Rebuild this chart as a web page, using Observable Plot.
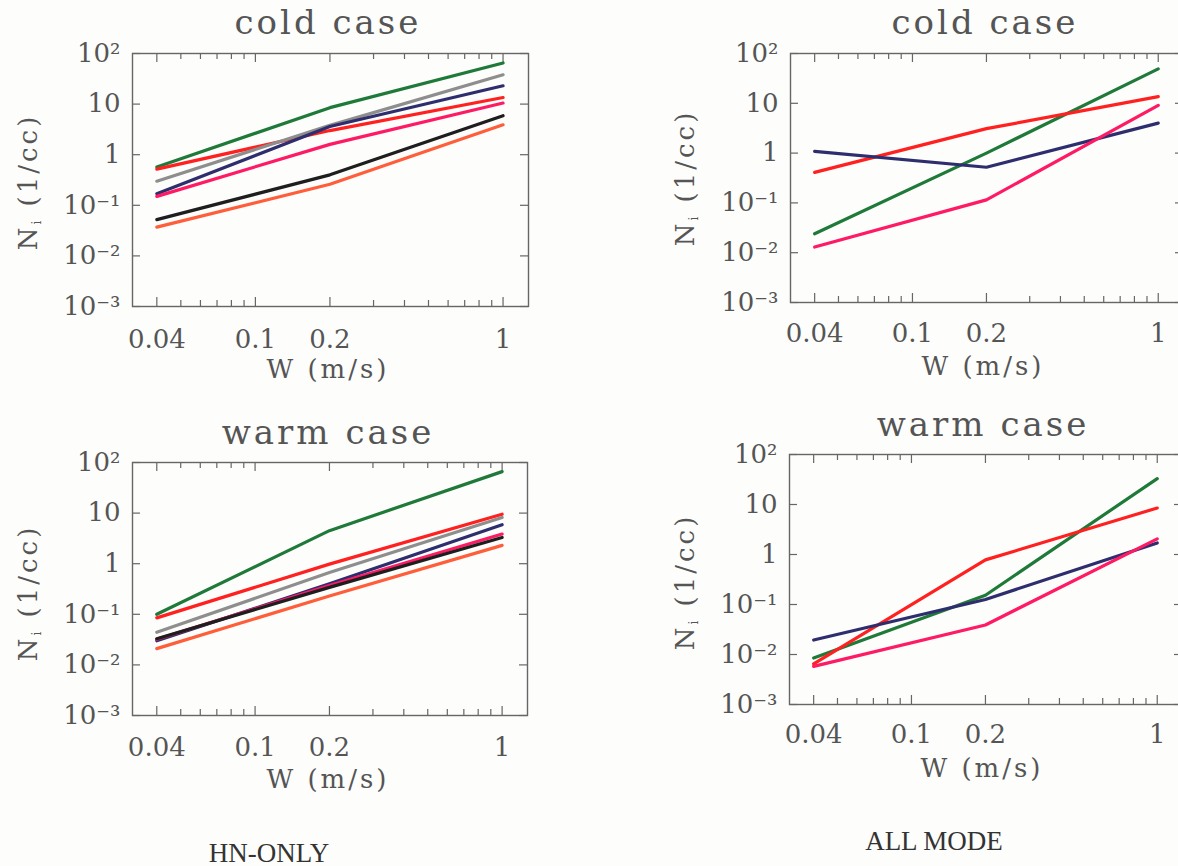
<!DOCTYPE html>
<html><head><meta charset="utf-8">
<script src="https://cdn.jsdelivr.net/npm/d3@7"></script>
<script src="https://cdn.jsdelivr.net/npm/@observablehq/plot@0.6"></script>
<style>
html,body{margin:0;padding:0;background:#fdfdfc;}
#page{position:relative;width:1178px;height:866px;overflow:hidden;font-family:"DejaVu Serif",serif;color:#555;}
.abs{position:absolute;white-space:nowrap;line-height:1;}
.title{font-size:34px;letter-spacing:3px;transform:translate(-50%,-100%);}
.xlab{font-size:26px;letter-spacing:3px;transform:translate(-50%,-50%);}
.ylab{font-size:26px;letter-spacing:3px;transform:translate(-50%,-50%) rotate(-90deg);}
.ylab sub{font-size:12px;vertical-align:-4px;}
.cap{font-family:"Liberation Serif",serif;font-size:27px;color:#333;transform:translate(-50%,-50%);}
svg{position:absolute;overflow:visible;}
</style></head><body><div id="page"></div>
<script>
// x positions of the points (vertical velocity W, m/s)
const W = [0.04, 0.2, 1];
// axis ticks
const xMinorTicks = [0.05,0.06,0.07,0.08,0.09,0.3,0.4,0.5,0.6,0.7,0.8,0.9];
const xLabelTicks = [0.04, 0.1, 0.2, 1];
const xTickLabels = ["0.04", "0.1", "0.2", "1"];
const yDecades = [1e-3, 1e-2, 1e-1, 1, 10, 100];
const yTickLabels = ["10\u207B\u00B3","10\u207B\u00B2","10\u207B\u00B9","1","10","10\u00B2"];

// series colours
const hnColors = ["#1f7a3a","#ff2020","#8e8e8e","#2e2e6e","#ff1a64","#1e1e1e","#ff5e3a"];
const allColors = ["#1f7a3a","#ff2020","#2e2e6e","#ff1a64"];

// HN-ONLY, cold case: green, red, gray, navy, pink, black, orange
const coldHN = [
  [0.57, 8.5, 65],
  [0.52, 3.0, 13.5],
  [0.30, 3.8, 38],
  [0.17, 3.6, 23],
  [0.15, 1.6, 10.5],
  [0.052, 0.40, 5.9],
  [0.037, 0.26, 3.9]
];
// HN-ONLY, warm case
const warmHN = [
  [0.10, 4.5, 66],
  [0.085, 0.98, 9.5],
  [0.044, 0.67, 8.2],
  [0.030, 0.40, 5.9],
  [0.032, 0.37, 3.85],
  [0.033, 0.34, 3.3],
  [0.021, 0.23, 2.3]
];
// ALL MODE, cold case: green, red, navy, pink
const coldAll = [
  [0.024, 1.0, 49],
  [0.41, 3.1, 13.6],
  [1.08, 0.52, 4.0],
  [0.013, 0.115, 9.1]
];
// ALL MODE, warm case
const warmAll = [
  [0.0085, 0.153, 33],
  [0.0065, 0.78, 8.5],
  [0.0195, 0.126, 1.7],
  [0.0058, 0.039, 2.05]
];

const page = document.getElementById("page");
function addDiv(cls, html, x, y) {
  const d = document.createElement("div");
  d.className = "abs " + cls;
  d.innerHTML = html;
  d.style.left = x + "px";
  d.style.top = y + "px";
  page.appendChild(d);
}

function panel(series, colors, frame, title, titleXY, xlabXY, ylabXY) {
  const mL = 80, mT = 12, mR = 12, mB = 60;
  const fw = frame.right - frame.left, fh = frame.bottom - frame.top;
  const rows = [];
  series.forEach((vals, s) => vals.forEach((v, i) => rows.push({w: W[i], n: v, s})));
  const tl = 6, tlMajor = 9, tly = 8;
  const tick = {stroke: "#666", strokeWidth: 1.2};
  const chart = Plot.plot({
    width: fw + mL + mR, height: fh + mT + mB,
    marginLeft: mL, marginRight: mR, marginTop: mT, marginBottom: mB,
    x: {type: "log", domain: [0.0319, 1.267], axis: null},
    y: {type: "log", domain: [1e-3, 100], axis: null},
    style: {fontFamily: "DejaVu Serif", fontSize: "25px", color: "#555", background: "transparent", overflow: "visible"},
    marks: [
      Plot.tickX(xMinorTicks, {x: d => d, insetTop: fh - tl, ...tick}),
      Plot.tickX(xMinorTicks, {x: d => d, insetBottom: fh - tl, ...tick}),
      Plot.tickX(xLabelTicks, {x: d => d, insetTop: fh - tlMajor, ...tick}),
      Plot.tickX(xLabelTicks, {x: d => d, insetBottom: fh - tlMajor, ...tick}),
      Plot.tickY(yDecades, {y: d => d, insetRight: fw - tly, ...tick}),
      Plot.tickY(yDecades, {y: d => d, insetLeft: fw - tly, ...tick}),
      Plot.text(xLabelTicks, {x: d => d, frameAnchor: "bottom", dy: frame.tdy, text: (d) => xTickLabels[xLabelTicks.indexOf(d)], fill: "#555", fontSize: 26, letterSpacing: 1}),
      Plot.text(yDecades, {y: d => d, frameAnchor: "left", dx: -12, textAnchor: "end", text: (d) => yTickLabels[yDecades.indexOf(d)], fill: "#555", fontSize: 26}),
      Plot.line(rows, {x: "w", y: "n", z: "s", stroke: d => colors[d.s], strokeWidth: 3.2, strokeLinejoin: "round"}),
      Plot.frame({stroke: "#666", strokeWidth: 1.4})
    ]
  });
  chart.style.left = (frame.left - mL) + "px";
  chart.style.top = (frame.top - mT) + "px";
  page.appendChild(chart);
  addDiv("title", title, titleXY[0], titleXY[1]);
  addDiv("xlab", "W (m/s)", xlabXY[0], xlabXY[1]);
  addDiv("ylab", "N<sub>i</sub> (1/cc)", ylabXY[0], ylabXY[1]);
}

panel(coldHN, hnColors, {left: 132, right: 528, top: 53, bottom: 306, tdy: 41}, "cold case", [328, 39], [328, 369], [29, 182]);
panel(coldAll, allColors, {left: 790, right: 1183, top: 53, bottom: 302, tdy: 39}, "cold case", [985, 39], [983, 366], [686, 178]);
panel(warmHN, hnColors, {left: 132, right: 527, top: 462, bottom: 715, tdy: 40}, "warm case", [328, 449], [328, 779], [29, 593]);
panel(warmAll, allColors, {left: 789, right: 1182, top: 454, bottom: 704, tdy: 38}, "warm case", [983, 441], [982, 768], [686, 582]);

addDiv("cap", "HN-ONLY", 269, 853);
addDiv("cap", "ALL MODE", 934, 841);
</script></body></html>
